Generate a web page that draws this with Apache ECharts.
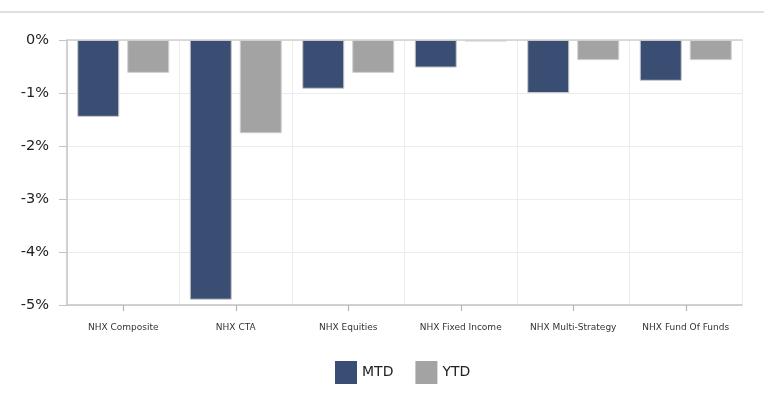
<!DOCTYPE html>
<html>
<head>
<meta charset="utf-8">
<script src="https://cdn.jsdelivr.net/npm/echarts@6/dist/echarts.min.js"></script>
<style>html,body{margin:0;padding:0;background:#fff}#c{width:764px;height:403px}</style>
</head>
<body>
<div id="c"></div>
<script>
var categories = ['NHX Composite','NHX CTA','NHX Equities','NHX Fixed Income','NHX Multi-Strategy','NHX Fund Of Funds'];
var mtd = [-1.45, -4.9, -0.92, -0.52, -1.0, -0.77];
var ytd = [-0.62, -1.76, -0.62, -0.03, -0.38, -0.38];
var yTicks = {min: -5, max: 0, interval: 1};

var font = 'Verdana, "DejaVu Sans", sans-serif';
var chart = echarts.init(document.getElementById('c'));
chart.setOption({
  animation: false,
  textStyle: {fontFamily: font},
  grid: {left: 67, right: 22, top: 40, bottom: 98},
  graphic: [{
    type: 'line', shape: {x1: 0, y1: 12, x2: 764, y2: 12},
    style: {stroke: '#dde1e6', lineWidth: 2}
  }],
  legend: {
    bottom: 14, left: 330,
    itemWidth: 22, itemHeight: 23, itemGap: 22,
    icon: 'rect',
    itemStyle: {borderWidth: 0},
    textStyle: {fontSize: 14, color: '#222', fontFamily: font},
    data: ['MTD', 'YTD']
  },
  xAxis: [{
    type: 'category', data: categories, position: 'bottom',
    axisLine: {show: true, onZero: false, lineStyle: {color: '#c4c4c4', width: 1.5}},
    axisTick: {show: true, alignWithLabel: true, interval: 0, length: 6, lineStyle: {color: '#b4b4b4', width: 1.2}},
    axisLabel: {fontSize: 9, interval: 0, color: '#333', margin: 18, fontFamily: font},
    splitLine: {show: true, interval: 0, lineStyle: {color: '#ececec'}}
  }, {
    type: 'category', data: categories, position: 'top',
    axisLine: {show: true, onZero: false, lineStyle: {color: '#cfcfcf', width: 1.5}},
    axisTick: {show: false}, axisLabel: {show: false}
  }],
  yAxis: {
    type: 'value', min: yTicks.min, max: yTicks.max, interval: yTicks.interval,
    axisLine: {show: true, lineStyle: {color: '#c4c4c4', width: 1.5}},
    axisTick: {show: true, length: 8, lineStyle: {color: '#c4c4c4'}},
    axisLabel: {fontSize: 14.5, color: '#222', margin: 18, formatter: '{value}%', fontFamily: font},
    splitLine: {lineStyle: {color: '#ececec'}}
  },
  series: [{
    name: 'MTD', type: 'bar', data: mtd,
    barWidth: 42, barGap: '19%',
    itemStyle: {color: '#3a4d72', borderColor: '#c8c8c8', borderWidth: 1}
  }, {
    name: 'YTD', type: 'bar', data: ytd,
    barWidth: 42,
    itemStyle: {color: '#a3a3a3', borderColor: '#d0d0d0', borderWidth: 1}
  }]
});
</script>
</body>
</html>
